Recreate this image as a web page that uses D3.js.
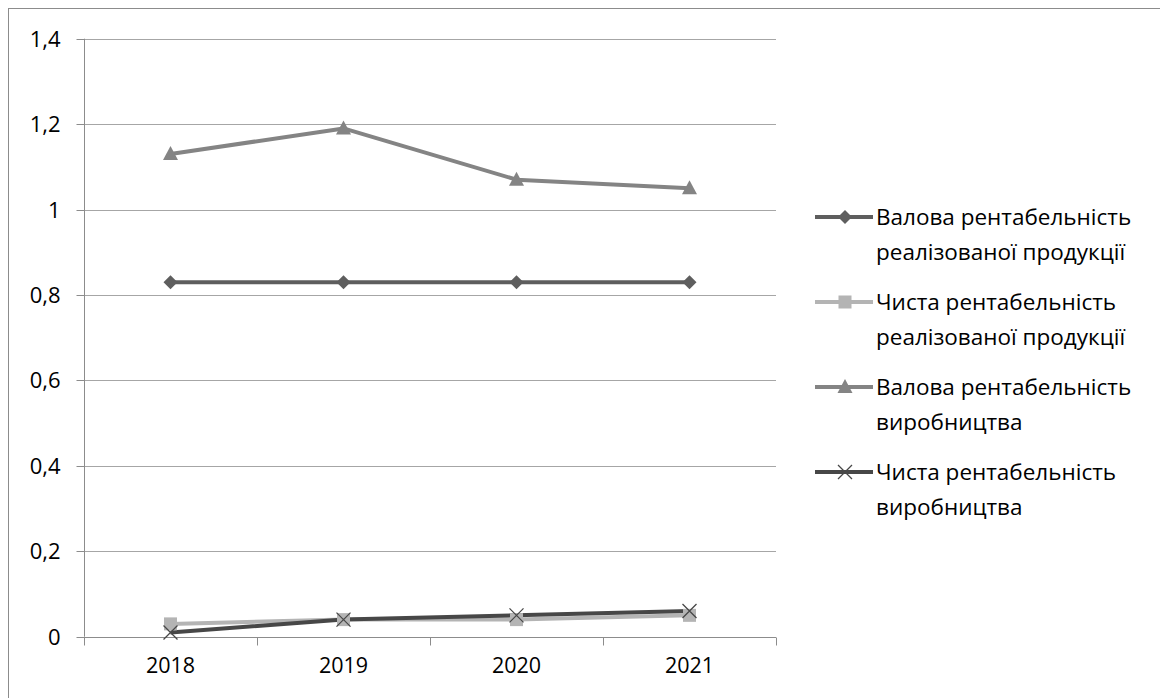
<!DOCTYPE html>
<html><head><meta charset="utf-8">
<script src="https://cdn.jsdelivr.net/npm/d3@7"></script>
<style>body{margin:0;background:#fff}svg{display:block}text{font-family:"Open Sans","Noto Sans",sans-serif;fill:#000}</style>
</head><body><svg id="c" width="1160" height="698"></svg>
<script>
const categories = ["2018","2019","2020","2021"];
const seriesNames = [
  ["Валова рентабельність","реалізованої продукції"],
  ["Чиста рентабельність","реалізованої продукції"],
  ["Валова рентабельність","виробництва"],
  ["Чиста рентабельність","виробництва"]
];
const grossSales = [0.83,0.83,0.83,0.83];
const netSales = [0.03,0.04,0.04,0.05];
const grossProd = [1.13,1.19,1.07,1.05];
const netProd = [0.01,0.04,0.05,0.06];
const yTicks = [0,0.2,0.4,0.6,0.8,1,1.2,1.4];

const series = [
  {name:seriesNames[0], values:grossSales, color:"#5e5e5e", marker:"diamond"},
  {name:seriesNames[1], values:netSales, color:"#b4b4b4", marker:"square"},
  {name:seriesNames[2], values:grossProd, color:"#848484", marker:"triangle"},
  {name:seriesNames[3], values:netProd, color:"#474747", marker:"x"}
];

const svg = d3.select("#c");
svg.append("rect").attr("x",8.5).attr("y",8.5).attr("width",1300).attr("height",900)
  .attr("fill","none").attr("stroke","#8c8c8c").attr("stroke-width",1);

const L=84, R=776, T=38.7, B=636.7;
const x = d3.scaleBand().domain(categories).range([L,R]);
const y = d3.scaleLinear().domain([0,1.4]).range([B,T]);
const fmt = v => String(+v.toFixed(1)).replace(".",",");

svg.append("g").selectAll("line").data(yTicks.filter(d=>d>0)).join("line")
  .attr("x1",L).attr("x2",R).attr("y1",d=>Math.round(y(d))+0.5).attr("y2",d=>Math.round(y(d))+0.5)
  .attr("stroke","#a6a6a6").attr("stroke-width",1);

const ya = svg.append("g").attr("transform",`translate(${L+0.5},0)`)
  .call(d3.axisLeft(y).tickValues(yTicks).tickFormat(fmt).tickSize(8).tickPadding(16));
ya.select(".domain").attr("stroke","#8c8c8c").attr("d",`M0,${T}V${B}`);
ya.selectAll(".tick line").attr("stroke","#8c8c8c");
ya.selectAll(".tick").attr("transform",d=>`translate(0,${Math.round(y(d))+0.5})`);
ya.selectAll("text").style("font-size","22px").attr("fill","#000").attr("font-family",null);

const xa = svg.append("g").attr("transform",`translate(0,${Math.round(B)+0.5})`)
  .call(d3.axisBottom(x).tickSize(0).tickPadding(20));
xa.select(".domain").attr("stroke","#8c8c8c").attr("d",`M${L},0H${R}`);
xa.selectAll("text").style("font-size","21.5px").attr("fill","#000").attr("font-family",null);
const edges = categories.map(c=>x(c)).concat([R]);
xa.append("g").selectAll("line").data(edges).join("line")
  .attr("x1",d=>Math.round(d)+0.5).attr("x2",d=>Math.round(d)+0.5).attr("y1",0).attr("y2",8)
  .attr("stroke","#8c8c8c");

const cx = c => x(c)+x.bandwidth()/2;
function drawMarker(g, type, color){
  if(type==="diamond") g.append("path").attr("d","M0,-7L7,0L0,7L-7,0Z").attr("fill",color);
  else if(type==="square") g.append("rect").attr("x",-6.5).attr("y",-6.5).attr("width",13).attr("height",13).attr("fill",color);
  else if(type==="triangle") g.append("path").attr("d","M0,-8L7.5,6L-7.5,6Z").attr("fill",color);
  else g.append("path").attr("d","M-7,-7L7,7M-7,7L7,-7").attr("stroke",color).attr("stroke-width",1.3).attr("fill","none");
}
const line = d3.line().x((d,i)=>cx(categories[i])).y(d=>y(d));
series.forEach(s=>{
  svg.append("path").attr("d",line(s.values)).attr("fill","none").attr("stroke",s.color).attr("stroke-width",4).attr("stroke-linejoin","round");
});
series.forEach(s=>{
  s.values.forEach((v,i)=>{
    const g = svg.append("g").attr("transform",`translate(${cx(categories[i])},${y(v)})`);
    drawMarker(g,s.marker,s.color);
  });
});

const legY = [217,302,387,472];
series.forEach((s,i)=>{
  const g = svg.append("g").attr("transform",`translate(0,${legY[i]})`);
  g.append("line").attr("x1",815).attr("x2",873).attr("y1",0).attr("y2",0).attr("stroke",s.color).attr("stroke-width",4);
  const m = g.append("g").attr("transform","translate(845,0)");
  drawMarker(m,s.marker,s.color);
  g.append("text").attr("x",876).attr("y",0).attr("dy","0.35em").style("font-size","22.5px").text(s.name[0]);
  g.append("text").attr("x",876).attr("y",35).attr("dy","0.35em").style("font-size","22.5px").text(s.name[1]);
});
</script></body></html>
